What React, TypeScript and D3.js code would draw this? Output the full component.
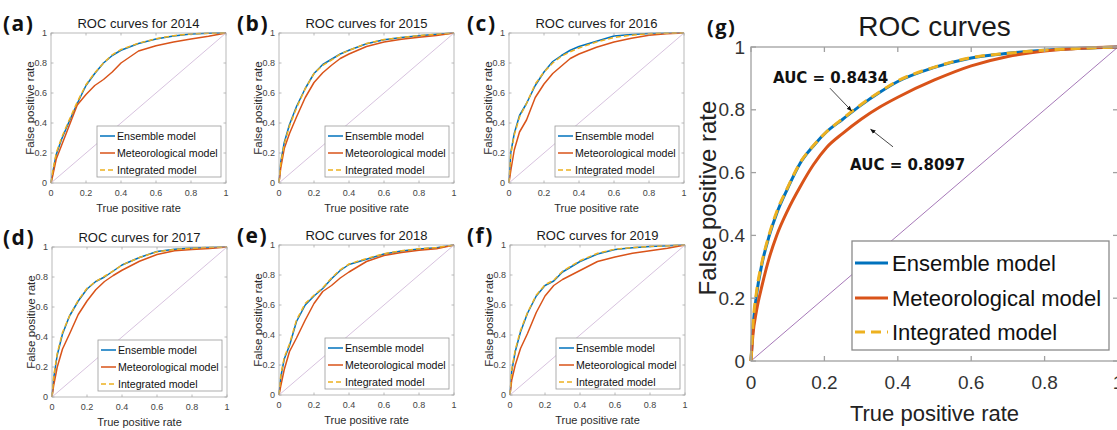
import React from 'react'
import * as d3 from 'd3'

// false-alarm grid shared by the yearly panels (x axis)
const gridSmall = [0, 0.01, 0.03, 0.06, 0.1, 0.15, 0.2, 0.25, 0.3, 0.35, 0.4, 0.5, 0.6, 0.7, 0.8, 0.9, 1]

const ens2014 = [0, 0.07, 0.19, 0.29, 0.40, 0.53, 0.65, 0.73, 0.80, 0.85, 0.885, 0.93, 0.96, 0.98, 0.993, 0.998, 1]
const met2014 = [0, 0.05, 0.16, 0.25, 0.37, 0.52, 0.59, 0.65, 0.69, 0.74, 0.80, 0.88, 0.915, 0.94, 0.96, 0.978, 1]
const int2014 = [0, 0.08, 0.20, 0.30, 0.41, 0.54, 0.655, 0.735, 0.80, 0.855, 0.89, 0.932, 0.962, 0.982, 0.994, 0.998, 1]

const ens2015 = [0, 0.14, 0.27, 0.39, 0.51, 0.63, 0.73, 0.79, 0.825, 0.86, 0.885, 0.928, 0.955, 0.97, 0.982, 0.992, 1]
const met2015 = [0, 0.10, 0.23, 0.33, 0.44, 0.57, 0.67, 0.735, 0.785, 0.83, 0.86, 0.91, 0.94, 0.958, 0.972, 0.984, 1]
const int2015 = [0, 0.13, 0.26, 0.38, 0.50, 0.63, 0.73, 0.785, 0.82, 0.86, 0.885, 0.93, 0.956, 0.97, 0.983, 0.992, 1]

const ens2016 = [0, 0.20, 0.33, 0.45, 0.53, 0.65, 0.74, 0.81, 0.85, 0.885, 0.91, 0.945, 0.98, 0.99, 0.996, 0.999, 1]
const met2016 = [0, 0.08, 0.22, 0.34, 0.42, 0.57, 0.66, 0.73, 0.78, 0.83, 0.86, 0.905, 0.94, 0.965, 0.985, 0.995, 1]
const int2016 = [0, 0.19, 0.32, 0.44, 0.53, 0.66, 0.74, 0.80, 0.845, 0.875, 0.90, 0.94, 0.97, 0.985, 0.995, 0.999, 1]

const ens2017 = [0, 0.13, 0.28, 0.42, 0.54, 0.64, 0.72, 0.77, 0.80, 0.84, 0.88, 0.93, 0.97, 0.985, 0.993, 0.997, 1]
const met2017 = [0, 0.08, 0.20, 0.32, 0.42, 0.55, 0.64, 0.715, 0.77, 0.81, 0.845, 0.905, 0.95, 0.975, 0.984, 0.99, 1]
const int2017 = [0, 0.14, 0.29, 0.43, 0.54, 0.645, 0.725, 0.77, 0.805, 0.84, 0.88, 0.93, 0.968, 0.984, 0.992, 0.997, 1]

const ens2018 = [0, 0.12, 0.24, 0.33, 0.49, 0.60, 0.66, 0.71, 0.775, 0.83, 0.87, 0.905, 0.94, 0.96, 0.973, 0.982, 1]
const met2018 = [0, 0.06, 0.17, 0.29, 0.38, 0.50, 0.61, 0.69, 0.73, 0.78, 0.82, 0.89, 0.93, 0.95, 0.965, 0.975, 1]
const int2018 = [0, 0.13, 0.25, 0.34, 0.50, 0.61, 0.665, 0.715, 0.78, 0.835, 0.873, 0.91, 0.942, 0.962, 0.975, 0.983, 1]

const ens2019 = [0, 0.16, 0.29, 0.42, 0.545, 0.66, 0.73, 0.76, 0.82, 0.855, 0.89, 0.94, 0.97, 0.982, 0.99, 0.995, 1]
const met2019 = [0, 0.10, 0.20, 0.31, 0.41, 0.55, 0.66, 0.73, 0.77, 0.80, 0.83, 0.89, 0.92, 0.945, 0.962, 0.978, 1]
const int2019 = [0, 0.17, 0.30, 0.43, 0.55, 0.665, 0.735, 0.765, 0.825, 0.86, 0.895, 0.945, 0.972, 0.983, 0.99, 0.995, 1]

// all years pooled, panel (g)
const gridBig = [0, 0.005, 0.015, 0.03, 0.05, 0.07, 0.1, 0.134, 0.17, 0.206, 0.25, 0.3, 0.35, 0.4, 0.5, 0.6, 0.7, 0.8, 0.9, 1]
const ensAll = [0, 0.10, 0.21, 0.31, 0.40, 0.47, 0.55, 0.63, 0.685, 0.73, 0.77, 0.815, 0.855, 0.89, 0.935, 0.965, 0.98, 0.99, 0.996, 1]
const metAll = [0, 0.08, 0.16, 0.24, 0.33, 0.40, 0.48, 0.555, 0.625, 0.68, 0.725, 0.77, 0.808, 0.84, 0.895, 0.94, 0.97, 0.987, 0.996, 1]
const intAll = [0, 0.11, 0.22, 0.315, 0.405, 0.475, 0.553, 0.632, 0.686, 0.73, 0.772, 0.817, 0.857, 0.892, 0.936, 0.966, 0.98, 0.99, 0.996, 1]

const seriesNames = ['Ensemble model', 'Meteorological model', 'Integrated model']
const tickVals = [0, 0.2, 0.4, 0.6, 0.8, 1]
const aucLabels = ['AUC = 0.8434', 'AUC = 0.8097']

const BLUE = '#0072BD'
const ORANGE = '#D95319'
const YELLOW = '#EDB120'

const smallPanels = [
  { tag: '(a)', title: 'ROC curves for 2014', left: 51, top: 33, tagDx: -48, ens: ens2014, met: met2014, int: int2014 },
  { tag: '(b)', title: 'ROC curves for 2015', left: 279, top: 33, tagDx: -42, ens: ens2015, met: met2015, int: int2015 },
  { tag: '(c)', title: 'ROC curves for 2016', left: 509, top: 33, tagDx: -42, ens: ens2016, met: met2016, int: int2016 },
  { tag: '(d)', title: 'ROC curves for 2017', left: 52, top: 247, tagDx: -49, ens: ens2017, met: met2017, int: int2017 },
  { tag: '(e)', title: 'ROC curves for 2018', left: 279, top: 245, tagDx: -42, ens: ens2018, met: met2018, int: int2018 },
  { tag: '(f)', title: 'ROC curves for 2019', left: 510, top: 245, tagDx: -43, ens: ens2019, met: met2019, int: int2019 },
]

const FONT = '"Liberation Sans", Arial, sans-serif'

function Panel({ cfg, grid, s }: any) {
  const x = d3.scaleLinear().domain([0, 1]).range([cfg.left, cfg.left + s.w])
  const y = d3.scaleLinear().domain([0, 1]).range([cfg.top + s.h, cfg.top])
  const line = (vals: number[]) =>
    d3.line<number>().x((_, i) => x(grid[i])).y(v => y(v)).curve(s.curve)(vals) || ''
  const L = cfg.left, T = cfg.top, R = cfg.left + s.w, B = cfg.top + s.h
  const lgR = R - s.lgRight, lgB = B - s.lgBottom
  const lgL = lgR - s.lgW, lgT = lgB - s.lgH
  const styles = [
    { stroke: BLUE, dash: undefined },
    { stroke: ORANGE, dash: undefined },
    { stroke: YELLOW, dash: s.dash },
  ]
  return (
    <g>
      <text x={L + cfg.tagDx} y={T + s.tagDy} fontFamily='"Open Sans", sans-serif' fontWeight="bold"
        fontSize={s.tagFont} letterSpacing={1.5} fill="#111">{cfg.tag}</text>
      <text x={(L + R) / 2} y={T - s.titleGap} textAnchor="middle" fontFamily={FONT} fontSize={s.titleFont} fill="#1a1a1a">{cfg.title}</text>
      <rect x={L} y={T} width={s.w} height={s.h} fill="white" stroke="none" />
      <line x1={x(0)} y1={y(0)} x2={x(1)} y2={y(1)} stroke={s.diagColor} strokeWidth={s.diagW} />
      <path d={line(cfg.ens)} fill="none" stroke={BLUE} strokeWidth={s.lw} strokeLinejoin="round" />
      <path d={line(cfg.met)} fill="none" stroke={ORANGE} strokeWidth={s.lw} strokeLinejoin="round" />
      <path d={line(cfg.int)} fill="none" stroke={YELLOW} strokeWidth={s.lw} strokeDasharray={s.dash} />
      <rect x={L} y={T} width={s.w} height={s.h} fill="none" stroke={s.axisColor} strokeWidth={s.axisW} />
      {tickVals.map(t => (
        <g key={'t' + t}>
          <line x1={x(t)} x2={x(t)} y1={B} y2={B - s.tick} stroke={s.axisColor} strokeWidth={s.axisW} />
          <line x1={x(t)} x2={x(t)} y1={T} y2={T + s.tick} stroke={s.axisColor} strokeWidth={s.axisW} />
          <line x1={L} x2={L + s.tick} y1={y(t)} y2={y(t)} stroke={s.axisColor} strokeWidth={s.axisW} />
          <line x1={R} x2={R - s.tick} y1={y(t)} y2={y(t)} stroke={s.axisColor} strokeWidth={s.axisW} />
          <text x={x(t)} y={B + s.xTickGap} textAnchor="middle" fontFamily={FONT} fontSize={s.tickFont} fill={s.tickColor}>{String(t)}</text>
          <text x={L - s.yTickGap} y={y(t)} dy="0.35em" textAnchor="end" fontFamily={FONT} fontSize={s.tickFont} fill={s.tickColor}>{String(t)}</text>
        </g>
      ))}
      <text x={(L + R) / 2} y={B + s.xLabelGap} textAnchor="middle" fontFamily={FONT} fontSize={s.xLabelFont} fill={s.labelColor}>True positive rate</text>
      <text transform={`translate(${L - s.yLabelGap},${(T + B) / 2 + s.yLabelShift}) rotate(-90)`} textAnchor="middle" fontFamily={FONT}
        fontSize={s.yLabelFont} fill={s.labelColor}>False positive rate</text>
      <rect x={lgL} y={lgT} width={s.lgW} height={s.lgH} fill="white" stroke={s.lgStroke} strokeWidth={s.axisW} />
      {seriesNames.map((name, i) => (
        <g key={name}>
          <line x1={lgL + s.lgPad} x2={lgL + s.lgPad + s.lgSample} y1={lgT + s.lgRows[i]} y2={lgT + s.lgRows[i]}
            stroke={styles[i].stroke} strokeWidth={s.lw} strokeDasharray={styles[i].dash} />
          <text x={lgL + s.lgPad + s.lgSample + s.lgTextGap} y={lgT + s.lgRows[i]} dy="0.35em" fontFamily={FONT}
            fontSize={s.lgFont} fill="#111">{name}</text>
        </g>
      ))}
      {s.annotate && (
        <g fontFamily='"DejaVu Sans", sans-serif' fontWeight="bold" fontSize={15} fill="#111">
          <text x={x(0.06)} y={y(0.885)}>{aucLabels[0]}</text>
          <line x1={x(0.215)} y1={y(0.869)} x2={x(0.274)} y2={y(0.797)} stroke="#333" strokeWidth={0.9} markerEnd="url(#arrow)" />
          <text x={x(0.27)} y={y(0.608)}>{aucLabels[1]}</text>
          <line x1={x(0.387)} y1={y(0.682)} x2={x(0.326)} y2={y(0.738)} stroke="#333" strokeWidth={0.9} markerEnd="url(#arrow)" />
        </g>
      )}
    </g>
  )
}

const smallStyle = {
  w: 175, h: 150, lw: 1.5, dash: '5,3', curve: d3.curveLinear,
  diagColor: '#cdb3d6', diagW: 0.8, axisColor: '#a8a8a8', axisW: 0.8, tick: 2.5,
  tickFont: 9, tickColor: '#444', xTickGap: 13, yTickGap: 4,
  titleFont: 13, titleGap: 5, tagFont: 21, tagDy: -2,
  xLabelFont: 11, xLabelGap: 29, yLabelFont: 11.5, yLabelGap: 17, yLabelShift: 0, labelColor: '#2a2a2a',
  lgRight: 5, lgBottom: 6, lgW: 124, lgH: 51, lgRows: [10, 27, 44], lgPad: 3, lgSample: 15, lgTextGap: 2,
  lgFont: 10.6, lgStroke: '#9a9a9a', annotate: false,
}

const bigStyle = {
  w: 367, h: 314, lw: 3, dash: '10,6', curve: d3.curveMonotoneX,
  diagColor: '#a678b8', diagW: 1, axisColor: '#a0a0a0', axisW: 1.3, tick: 5,
  tickFont: 19, tickColor: '#333', xTickGap: 28, yTickGap: 6,
  titleFont: 28, titleGap: 11, tagFont: 20, tagDy: -13,
  xLabelFont: 22, xLabelGap: 60, yLabelFont: 24, yLabelGap: 35, yLabelShift: -6, labelColor: '#222',
  lgRight: 9, lgBottom: 11, lgW: 257, lgH: 109, lgRows: [22, 57, 91], lgPad: 3, lgSample: 33, lgTextGap: 4,
  lgFont: 22, lgStroke: '#8a8a8a', annotate: true,
}

const bigPanel = { tag: '(g)', title: 'ROC curves', left: 751, top: 47, tagDx: -44, ens: ensAll, met: metAll, int: intAll }

export default function App() {
  return (
    <svg width={1117} height={430} style={{ position: 'absolute', left: 0, top: 0, background: 'white' }}>
      <defs>
        <marker id="arrow" viewBox="0 0 10 10" refX="9" refY="5" markerWidth="6" markerHeight="6" orient="auto">
          <path d="M0,1 L10,5 L0,9 z" fill="#111" />
        </marker>
      </defs>
      <rect width={1117} height={430} fill="white" />
      {smallPanels.map(p => <Panel key={p.tag} cfg={p} grid={gridSmall} s={smallStyle} />)}
      <Panel cfg={bigPanel} grid={gridBig} s={bigStyle} />
    </svg>
  )
}
